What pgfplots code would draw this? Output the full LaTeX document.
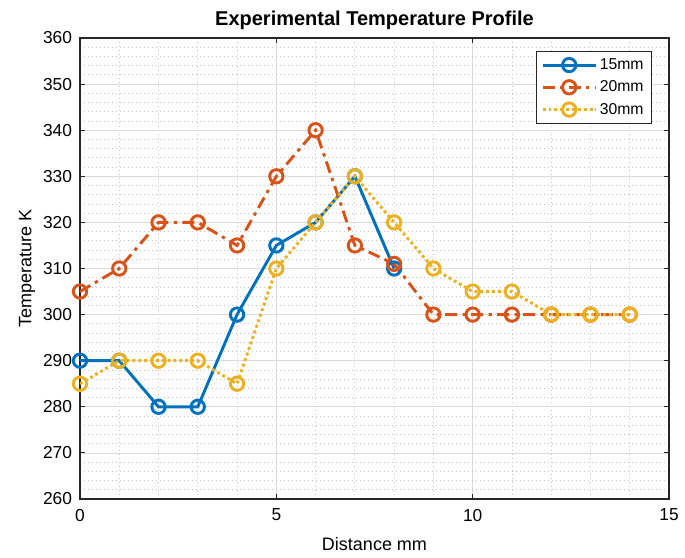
\documentclass[border=0pt]{standalone}
\usepackage{pgfplots}
\pgfplotsset{compat=1.18}
\usepackage{fontspec}
\setmainfont{Liberation Sans}
\definecolor{c1}{rgb}{0,0.447,0.741}
\definecolor{c2}{rgb}{0.85,0.325,0.098}
\definecolor{c3}{rgb}{0.929,0.694,0.125}
\definecolor{axc}{rgb}{0.15,0.15,0.15}
\begin{document}
\begin{tikzpicture}
\useasboundingbox (-60pt,-43.5pt) rectangle (453.75pt,374.25pt);
\begin{axis}[
  scale only axis,
  width=441.75pt, height=345.75pt,
  xmin=0, xmax=15, ymin=260, ymax=360,
  xtick={0,5,10,15}, ytick={260,270,...,360},
  minor x tick num=4, minor y tick num=4,
  grid=both,
  major grid style={color=black!14, line width=0.6pt},
  minor grid style={color=black!22, dash pattern=on 0.6pt off 2.4pt, line width=0.6pt},
  axis line style={axc, line width=0.8pt},
  tick style={axc, line width=0.8pt},
  tick align=inside,
  major tick length=4pt, minor tick length=0pt,
  ticklabel style={font=\fontsize{13}{15}\selectfont, text=black},
  xticklabel style={yshift=-4pt},
  yticklabel style={xshift=-2.5pt},
  /pgf/number format/assume math mode=true,
  xlabel={Distance mm}, ylabel={Temperature K},
  label style={font=\fontsize{13.5}{16}\selectfont},
  xlabel style={yshift=-5pt},
  ylabel style={yshift=-1pt},
  title={\textbf{Experimental Temperature Profile}},
  title style={font=\fontsize{15}{18}\selectfont, yshift=-3pt},
  legend style={at={(0.97,0.972)}, anchor=north east, draw=axc, line width=0.6pt,
    font=\fontsize{11.8}{14}\selectfont, inner sep=3.5pt, row sep=3pt},
  legend cell align=left,
  legend image code/.code={
    \draw[#1] (0pt,0pt) -- (1.4cm,0pt);
    \draw[#1, solid] plot coordinates {(0.7cm,0pt)};
  },
  mark size=5pt,
]
\addplot[c1, line width=2.2pt, solid, mark=o, mark options={solid}] coordinates {
(0,290)(1,290)(2,280)(3,280)(4,300)(5,315)(6,320)(7,330)(8,310)};
\addlegendentry{15mm}
\addplot[c2, line width=2.2pt, dash pattern=on 9pt off 4pt on 2.5pt off 4pt, mark=o, mark options={solid}] coordinates {
(0,305)(1,310)(2,320)(3,320)(4,315)(5,330)(6,340)(7,315)(8,311)(9,300)(10,300)(11,300)(12,300)(13,300)(14,300)};
\addlegendentry{20mm}
\addplot[c3, line width=2.2pt, dash pattern=on 2.2pt off 2.2pt, mark=o, mark options={solid}] coordinates {
(0,285)(1,290)(2,290)(3,290)(4,285)(5,310)(6,320)(7,330)(8,320)(9,310)(10,305)(11,305)(12,300)(13,300)(14,300)};
\addlegendentry{30mm}
\end{axis}
\end{tikzpicture}
\end{document}
